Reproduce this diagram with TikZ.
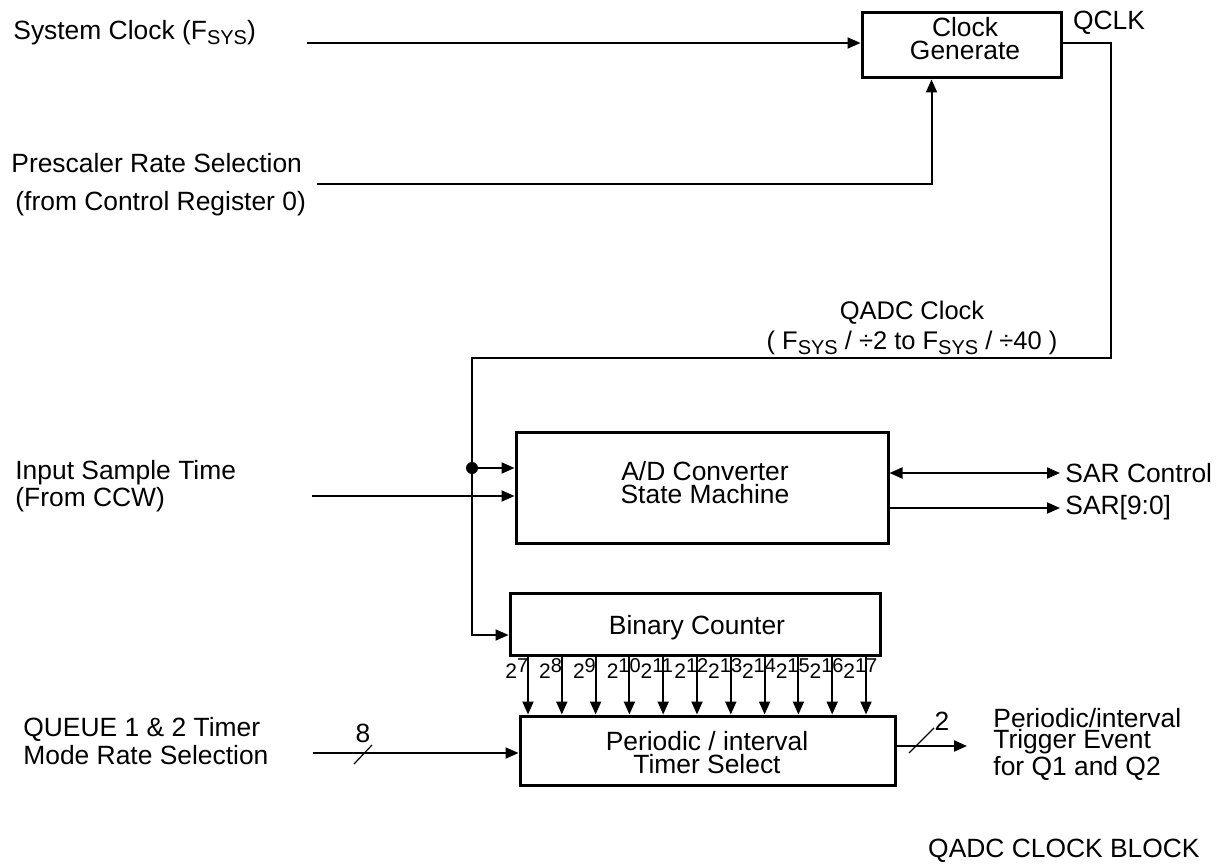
\documentclass[tikz,border=0pt]{standalone}
\usepackage{fontspec}
\setmainfont{Liberation Sans}
\usetikzlibrary{arrows.meta,calc}
\newcommand{\fsys}{F\raisebox{-2.5pt}{\fontsize{10}{10}\selectfont SYS}}
\newcommand{\pwr}[1]{2\raisebox{2.8pt}{\fontsize{10}{10}\selectfont #1}}
\begin{document}
\begin{tikzpicture}[x=0.5pt,y=-0.5pt,
  box/.style={draw, line width=1.5pt, inner sep=0pt},
  txt/.style={font=\fontsize{13.2}{#1}\selectfont, inner sep=0pt},
  arr/.style={-{Triangle[length=6.5pt,width=5.5pt]}, line width=1pt},
  dbl/.style={{Triangle[length=6.5pt,width=5.5pt]}-{Triangle[length=6.5pt,width=5.5pt]}, line width=1pt},
  slash/.style={line width=0.6pt},
  pw/.style={font=\fontsize{10.5}{10.5}\selectfont, inner sep=0pt, anchor=base west}]
\useasboundingbox (0,0) rectangle (1220,866);

% boxes
\node[box, minimum width=99.5pt, minimum height=32.5pt] (cg) at (961.5,45.5) {};
\node[box, minimum width=186pt, minimum height=55.5pt] (ad) at (702,487.5) {};
\node[box, minimum width=185pt, minimum height=31pt] (bc) at (695,624) {};
\node[box, minimum width=187.5pt, minimum height=34.5pt] (pt) at (707.5,750.5) {};

% box texts
\node[txt=11.5pt, align=center] (cgt) at (965,38.5) {Clock\\Generate};
\node[txt=11.3pt, align=center] (adt) at (705,482.5) {A/D Converter\\State Machine};
\node[txt=14pt] (bct) at (697,628) {Binary Counter};
\node[txt=11.3pt, align=center] (ptt) at (707,752.5) {Periodic / interval\\Timer Select};

% labels
\node[txt=14pt, anchor=west] (sys) at (13,33) {System Clock (\fsys)};
\node[txt=19pt, anchor=west, align=left] (pre) at (11,185) {Prescaler Rate Selection\\\hspace{2pt}(from Control Register 0)};
\node[txt=13.5pt, anchor=west, align=left] (ist) at (15,486.5) {Input Sample Time\\(From CCW)};
\node[txt=14pt, anchor=west, align=left] (qts) at (23,741) {QUEUE 1 \& 2 Timer\\Mode Rate Selection};
\node[font=\fontsize{12.75}{15}\selectfont, inner sep=0pt, align=center] (qadc) at (912,328) {QADC Clock\\( \fsys{} / ÷2 to \fsys{} / ÷40 )};
\node[txt=14pt] (qclk) at (1109,23) {QCLK};
\node[txt=14pt, anchor=west] (sarct) at (1065,473) {SAR Control};
\node[txt=14pt, anchor=west] (sart) at (1065,508) {SAR[9:0]};
\node[txt=10.75pt, anchor=west, align=left] (trig) at (993,744) {Periodic/interval\\Trigger Event\\for Q1 and Q2};
\node[txt=14pt] (n8) at (363,733) {8};
\node[txt=14pt] (n2) at (942,721) {2};
\node[txt=14pt, anchor=east] (title) at (1200,851) {QADC CLOCK BLOCK};

% coordinates
\coordinate (sysin) at (307,43);
\coordinate (prein) at (317,184);
\coordinate (cgb) at ([xshift=35.5pt]cg.south west);
\coordinate (q1) at (1111,43);
\coordinate (q2) at (1111,358);
\coordinate (q3) at (472,358);
\coordinate (dot) at (472,468);
\coordinate (bcin) at ([yshift=-5.5pt]bc.west);
\coordinate (isin) at (312,496);
\coordinate (sarc) at (1060,473);
\coordinate (sar) at (1060,508);
\coordinate (qin) at (313,753);
\coordinate (tout) at (967,746);

% connectors
\draw[arr] (sysin) -- (sysin -| cg.west);
\draw[arr] (prein) -| (cgb);
\draw[arr] (cg.east |- q1) -- (q1) -- (q2) -- (q3) |- (bcin);
\fill (dot) circle (3pt);
\draw[arr] (dot) -- (dot -| ad.west);
\draw[arr] (isin) -- (isin -| ad.west);
\draw[dbl] (sarc -| ad.east) -- (sarc);
\draw[arr] (sar -| ad.east) -- (sar);
\draw[arr] (qin) -- (qin -| pt.west);
\draw[slash] (354,764) -- (372,745);
\draw[arr] (tout -| pt.east) -- (tout);
\draw[slash] (909,753) -- (934,728);

% counter outputs
\foreach \i [count=\k from 0] in {7,...,17} {
  \pgfmathsetmacro\xx{528+33.8*\k}
  \draw[arr] (bc.south -| \xx,0) -- (pt.north -| \xx,0);
  \node[pw] (p\i) at (\xx-23,678) {\pwr{\i}};
}
\end{tikzpicture}
\end{document}
